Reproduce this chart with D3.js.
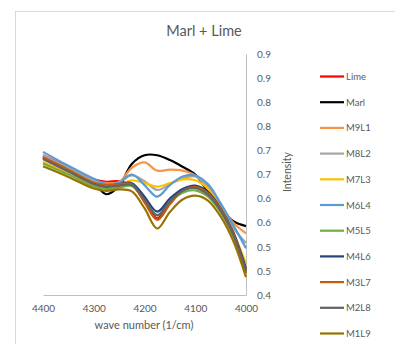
<!DOCTYPE html>
<html><head><meta charset="utf-8">
<script src="https://cdn.jsdelivr.net/npm/d3@7"></script>
<style>body{margin:0;background:#fff;} text{font-family:Lato,"Open Sans",sans-serif;}</style>
</head><body><svg id="c" width="395" height="344"></svg>
<script>
const waveNumbers = [4400,4350,4300,4275,4250,4225,4200,4175,4150,4125,4100,4075,4050,4025,4000];
const seriesNames = ["Lime","Marl","M9L1","M8L2","M7L3","M6L4","M5L5","M4L6","M3L7","M2L8","M1L9"];
const seriesColors = ["#ff0000","#000000","#f79646","#a5a5a5","#ffc000","#5b9bd5","#70ad47","#264478","#c55a11","#636363","#997300"];
const lime = [0.690,0.665,0.640,0.635,0.636,0.628,0.595,0.559,0.590,0.618,0.625,0.612,0.580,0.530,0.450];
const marl = [0.686,0.660,0.632,0.609,0.626,0.672,0.690,0.690,0.680,0.666,0.650,0.614,0.580,0.553,0.543];
const m9l1 = [0.688,0.662,0.637,0.632,0.634,0.664,0.675,0.658,0.660,0.658,0.648,0.622,0.585,0.550,0.528];
const m8l2 = [0.690,0.664,0.638,0.630,0.634,0.648,0.636,0.618,0.630,0.642,0.646,0.625,0.588,0.540,0.508];
const m7l3 = [0.676,0.652,0.628,0.624,0.628,0.638,0.632,0.625,0.632,0.640,0.638,0.620,0.582,0.530,0.465];
const m6l4 = [0.697,0.668,0.641,0.630,0.633,0.650,0.628,0.604,0.628,0.646,0.648,0.630,0.590,0.545,0.497];
const m5l5 = [0.673,0.650,0.625,0.620,0.623,0.626,0.598,0.566,0.593,0.612,0.617,0.604,0.572,0.522,0.448];
const m4l6 = [0.685,0.658,0.632,0.626,0.630,0.632,0.604,0.573,0.600,0.620,0.627,0.614,0.580,0.530,0.455];
const m3l7 = [0.686,0.660,0.633,0.628,0.630,0.630,0.592,0.556,0.588,0.616,0.624,0.611,0.578,0.527,0.445];
const m2l8 = [0.682,0.656,0.630,0.624,0.627,0.628,0.598,0.565,0.594,0.616,0.622,0.608,0.575,0.525,0.450];
const m1l9 = [0.667,0.645,0.621,0.616,0.619,0.615,0.580,0.538,0.572,0.598,0.606,0.596,0.563,0.512,0.437];
const seriesValues = [lime,marl,m9l1,m8l2,m7l3,m6l4,m5l5,m4l6,m3l7,m2l8,m1l9];
const xTicks = [4400,4300,4200,4100,4000];
const yTicks = [0.4,0.45,0.5,0.55,0.6,0.65,0.7,0.75,0.8,0.85,0.9];
const yTickLabels = ["0.4","0.5","0.5","0.6","0.6","0.7","0.7","0.8","0.8","0.9","0.9"];

const svg = d3.select("#c");
const L = 43, R = 246, T = 54, B = 295;
const x = d3.scaleLinear().domain([4400,4000]).range([L,R]);
const y = d3.scaleLinear().domain([0.4,0.9]).range([B,T]);
const grey = "#595959";

svg.append("rect").attr("x",15.5).attr("y",11.5).attr("width",400).attr("height",400)
  .attr("fill","none").attr("stroke","#d9d9d9");

svg.append("text").attr("x",204).attr("y",36).attr("text-anchor","middle")
  .attr("font-size",14.5).attr("fill",grey).text("Marl + Lime");

const xAxis = svg.append("g").attr("transform",`translate(0,${B})`)
  .call(d3.axisBottom(x).tickValues(xTicks).tickSize(0).tickPadding(10).tickFormat(d3.format("d")));
xAxis.select(".domain").attr("stroke","#bfbfbf");
xAxis.selectAll("text").attr("font-size",10).attr("fill",grey).attr("font-family","Lato,'Open Sans',sans-serif");

const yAxis = svg.append("g").attr("transform",`translate(${R},0)`)
  .call(d3.axisRight(y).tickValues(yTicks).tickSize(0).tickPadding(11).tickFormat((d,i)=>yTickLabels[i]));
yAxis.select(".domain").attr("stroke","#bfbfbf");
yAxis.selectAll("text").attr("font-size",10).attr("fill",grey).attr("font-family","Lato,'Open Sans',sans-serif");

svg.append("text").attr("transform","translate(291,172) rotate(-90)").attr("text-anchor","middle")
  .attr("font-size",10.5).attr("fill",grey).text("Intensity");
svg.append("text").attr("x",144).attr("y",329).attr("text-anchor","middle")
  .attr("font-size",11).attr("fill",grey).text("wave number (1/cm)");

const line = d3.line().x((d,i)=>x(waveNumbers[i])).y(d=>y(d)).curve(d3.curveCatmullRom.alpha(0.5));
const order = [0,1,2,3,4,5,6,7,8,9,10];
svg.append("g").selectAll("path").data(order).join("path")
  .attr("d",i=>line(seriesValues[i])).attr("fill","none")
  .attr("stroke",i=>seriesColors[i]).attr("stroke-width",2.2).attr("stroke-linejoin","round");

const lg = svg.append("g");
seriesNames.forEach((n,i)=>{
  const yy = 76.5 + i*25.7;
  lg.append("line").attr("x1",320).attr("x2",344).attr("y1",yy).attr("y2",yy)
    .attr("stroke",seriesColors[i]).attr("stroke-width",2.2);
  lg.append("text").attr("x",346).attr("y",yy+3.5).attr("font-size",9.5).attr("fill",grey).text(n);
});
</script></body></html>
